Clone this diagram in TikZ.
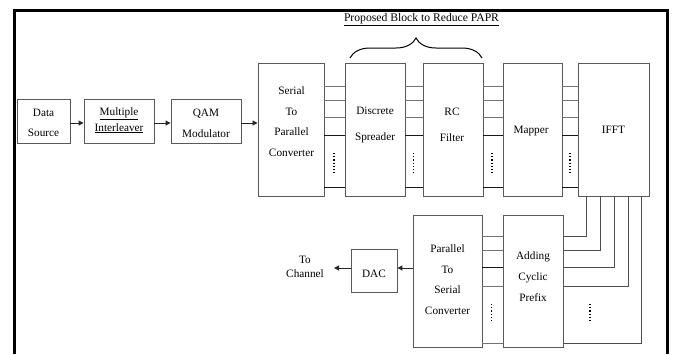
\documentclass[tikz,border=0pt]{standalone}
\usepackage{fontspec}
\setmainfont{Liberation Serif}
\usetikzlibrary{arrows.meta,decorations.pathreplacing}
\begin{document}
\begin{tikzpicture}[x=1bp,y=-1bp,
 blk/.style={draw=black!65,line width=0.9bp,inner sep=0pt},
 txt/.style={font=\fontsize{11.3}{20.7}\selectfont,align=center,inner sep=0pt},
 txtw/.style={font=\fontsize{11.3}{26.6}\selectfont,align=center,inner sep=0pt},
 wire/.style={line width=0.8bp},
 arr/.style={draw=black!85,line width=1bp,-{Triangle[length=5bp,width=5bp]}},
 dots/.style={line width=1.4bp,dash pattern=on 1.2bp off 2bp}]
\useasboundingbox (0,0) rectangle (673,354);
\draw[line width=3bp] (14,354) -- (14,10) -- (667,10) -- (667,354);
% boxes
\node[blk,minimum width=53bp,minimum height=44bp] (dsrc) at (43.5,121) {};
\node[blk,minimum width=70bp,minimum height=44bp] (mil) at (119,121) {};
\node[blk,minimum width=70bp,minimum height=44bp] (qam) at (206,121) {};
\node[blk,minimum width=66bp,minimum height=133bp] (s2p) at (291,129.5) {};
\node[blk,minimum width=60bp,minimum height=133bp] (ds) at (375,129.5) {};
\node[blk,minimum width=60bp,minimum height=133bp] (rc) at (453,129.5) {};
\node[blk,minimum width=59bp,minimum height=133bp] (map) at (532.5,129.5) {};
\node[blk,minimum width=71bp,minimum height=133bp] (ifft) at (613.5,129.5) {};
\node[blk,minimum width=69bp,minimum height=132bp] (p2s) at (447.5,281) {};
\node[blk,minimum width=60bp,minimum height=132bp] (acp) at (533,281) {};
\node[blk,minimum width=46bp,minimum height=43bp] (dac) at (374,270.5) {};
% texts
\node[txt] (tdsrc) at (43.5,123) {Data\\Source};
\node[txt,font=\fontsize{11.3}{15.6}\selectfont] (tmil) at (119,120.5) {\underline{Multiple}\\\underline{Interleaver}};
\node[txt] (tqam) at (206,123.3) {QAM\\Modulator};
\node[txt] (ts2p) at (291.5,121.5) {Serial\\To\\Parallel\\Converter};
\node[txtw] (tds) at (375,125) {Discrete\\Spreader};
\node[txtw] (trc) at (452,125) {RC\\Filter};
\node[txt] (tmap) at (531,131.5) {Mapper};
\node[txt] (tifft) at (613.5,130) {IFFT};
\node[txt] (tp2s) at (447.5,279.5) {Parallel\\To\\Serial\\Converter};
\node[txt] (tacp) at (533,276.7) {Adding\\Cyclic\\Prefix};
\node[txt] (tdac) at (374,273.5) {DAC};
\node[txt,font=\fontsize{11.3}{13.5}\selectfont] (tch) at (305,267) {To\\Channel};
\node[txt,font=\fontsize{11.7}{14}\selectfont] (thead) at (421.5,19.5) {\underline{Proposed Block to Reduce PAPR}};
% brace
\draw[line width=1bp,decorate,decoration={brace,amplitude=20bp}] (350,58) -- (482,58);
% arrows top row
\draw[arr] (dsrc.east |- 0,123) -- (mil.west |- 0,123);
\draw[arr] (mil.east |- 0,123) -- (qam.west |- 0,123);
\draw[arr] (qam.east |- 0,123) -- (s2p.west |- 0,123);
% parallel lines top row
\foreach \a/\b/\dx in {s2p/ds/334, ds/rc/413.5, rc/map/492, map/ifft/570}{
  \foreach \yy/\cc in {86/black!55,100/black!55,117/black!55,135/black!90,187/black!90}
    \draw[wire,draw=\cc] (\a.east |- 0,\yy) -- (\b.west |- 0,\yy);
  \draw[dots] (\dx,153) -- (\dx,174);
}
% parallel lines bottom row
\foreach \yy/\cc in {236.7/black!55,250.7/black!55,267.3/black!90,286/black!55,343.3/black!55}
  \draw[wire,draw=\cc] (p2s.east |- 0,\yy) -- (acp.west |- 0,\yy);
\draw[dots] (491.7,304) -- (491.7,323);
% IFFT to cyclic prefix
\foreach \xx/\yy in {586/236.7,600/250.7,614/267.3,628.3/286,641.7/343.3}
  \draw[wire,draw=black!70] (ifft.south -| \xx,0) |- (acp.east |- 0,\yy);
\draw[dots] (590,304) -- (590,323);
% output arrows
\coordinate (tc) at (334,268);
\draw[arr] (p2s.west |- 0,268) -- (dac.east |- 0,268);
\draw[arr] (dac.west |- 0,268) -- (tc);
\end{tikzpicture}
\end{document}
